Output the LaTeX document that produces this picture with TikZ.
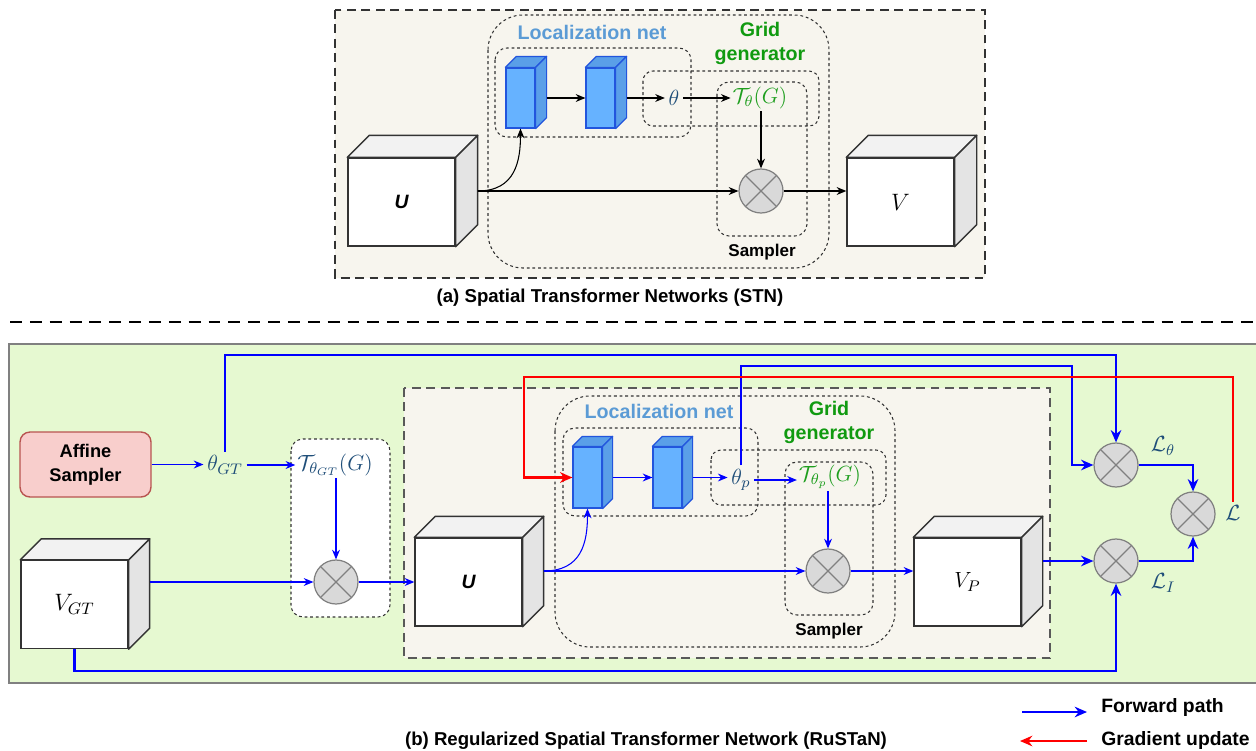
\RequirePackage{fix-cm}
\documentclass[tikz,border=0pt]{standalone}
\usepackage[no-math]{fontspec}
\newfontfamily\lab{Liberation Sans}
\usetikzlibrary{arrows.meta}
\definecolor{beige}{HTML}{F7F5EE}
\definecolor{greenbg}{HTML}{E6F9D1}
\definecolor{otfill}{HTML}{D9D9D9}
\definecolor{otgray}{HTML}{808080}
\definecolor{cubetop}{HTML}{F2F2F2}
\definecolor{cubeside}{HTML}{E4E4E4}
\definecolor{cubeedge}{HTML}{333333}
\definecolor{blkfront}{HTML}{66B2FF}
\definecolor{blkside}{HTML}{5A9FE8}
\definecolor{blkedge}{HTML}{2255DD}
\definecolor{locblue}{HTML}{5B9BD5}
\definecolor{gridgreen}{HTML}{109A10}
\definecolor{tgreen}{HTML}{1E9E1E}
\definecolor{mathblue}{HTML}{1F4E79}
\definecolor{afffill}{HTML}{F8CECC}
\definecolor{affedge}{HTML}{B85450}
\definecolor{fwd}{HTML}{0000FF}
\definecolor{grad}{HTML}{FF0000}
\definecolor{dotgray}{HTML}{333333}
\newcommand{\mkcube}[6]{%
  \node[cubefront, minimum width=#3, minimum height=#4] (#1) at #2 {#6};
  \filldraw[cubetopface] (#1.north west) -- ++(#5,-#5) -- ([shift={(#5,-#5)}]#1.north east) -- (#1.north east) -- cycle;
  \filldraw[cubesideface] (#1.north east) -- ++(#5,-#5) -- ([shift={(#5,-#5)}]#1.south east) -- (#1.south east) -- cycle;}
\newcommand{\mkblock}[4]{%
  \node[blkfront, minimum height=#4] (#1) at #2 {};
  \filldraw[blksideface] (#1.north west) -- ++(#3,-#3) -- ([shift={(#3,-#3)}]#1.north east) -- (#1.north east) -- cycle;
  \filldraw[blksideface] (#1.north east) -- ++(#3,-#3) -- ([shift={(#3,-#3)}]#1.south east) -- (#1.south east) -- cycle;}
\begin{document}
\begin{tikzpicture}[x=0.02cm,y=-0.02cm,
  lbl/.style={font=\lab\bfseries\fontsize{11.2}{13.7}\selectfont, inner sep=0pt, align=center},
  smp/.style={font=\lab\bfseries\fontsize{9.7}{12}\selectfont, inner sep=0pt},
  captxt/.style={font=\lab\bfseries\fontsize{10.6}{13}\selectfont, inner sep=0pt},
  mth/.style={font=\fontsize{12.5}{15}\selectfont, text=mathblue, inner sep=2pt},
  cubefront/.style={draw=cubeedge, fill=white, line width=0.8pt, inner sep=0pt},
  cubetopface/.style={draw=cubeedge, fill=cubetop, line width=0.8pt, line join=round},
  cubesideface/.style={draw=cubeedge, fill=cubeside, line width=0.8pt, line join=round},
  blkfront/.style={draw=blkedge, fill=blkfront, line width=0.7pt, minimum width=0.58cm, inner sep=0pt},
  blksideface/.style={draw=blkedge, fill=blkside, line width=0.7pt, line join=round},
  otimes/.style={circle, draw=otgray, fill=otfill, line width=0.7pt, minimum size=0.88cm, inner sep=0pt,
    path picture={\draw[otgray, line width=0.7pt] (path picture bounding box.north west) -- (path picture bounding box.south east)
      (path picture bounding box.north east) -- (path picture bounding box.south west);}},
  dotbox/.style={draw=dotgray, dash pattern=on 1.6pt off 1.6pt, line width=0.6pt},
  longdash/.style={draw=cubeedge, dash pattern=on 5pt off 3.2pt, line width=0.7pt},
  arr/.style={-{Stealth[length=5.5pt,width=4.5pt]}, line width=0.6pt},
  barr/.style={arr, draw=fwd},
  tharr/.style={-{Stealth[length=7pt,width=6pt]}, line width=1.3pt, draw=fwd},
  rarr/.style={-{Stealth[length=7pt,width=6pt]}, line width=1.3pt, draw=grad}]
\useasboundingbox (0,0) rectangle (1256,750);

% ================= (a) STN =================
\draw[longdash, fill=beige] (335,10) rectangle (985,278);
\draw[dotbox, rounded corners=0.7cm] (488,15) rectangle (829,268);
\draw[dotbox, rounded corners=0.24cm] (495,48) rectangle (691,137);
\draw[dotbox, rounded corners=0.2cm] (643,71) rectangle (819,126);
\draw[dotbox, rounded corners=0.24cm] (717,82) rectangle (807,236);

\node[lbl, text=locblue] (locA) at (592,32) {Localization net};
\node[lbl, text=gridgreen] (gridA) at (760,43) {Grid\\generator};
\node[smp] (sampA) at (762,252) {Sampler};

\mkblock{b1A}{(520.5,98)}{11}{1.2cm}
\mkblock{b2A}{(600.5,98)}{11}{1.2cm}
\node[mth] (thA) at (674,98) {$\theta$};
\node[mth, text=tgreen, inner sep=1pt] (TA) at (760,98) {$\mathcal{T}_\theta(G)$};
\node[otimes] (oA) at (761,191) {};

\mkcube{UA}{(401.5,202)}{2.14cm}{1.76cm}{22}{\lab\bfseries\itshape\fontsize{11}{13}\selectfont U}
\mkcube{VA}{(900.5,202)}{2.14cm}{1.76cm}{22}{\fontsize{13.5}{16}\selectfont$V$}

\draw[arr] ([shift={(11,0)}]b1A.east) -- (b2A.west);
\draw[arr] ([shift={(11,0)}]b2A.east) -- (thA.west);
\draw[arr] (thA.east) -- (thA.east -| TA.west);
\draw[arr] (oA.north |- TA.south) -- (oA.north);
\draw[arr] ([shift={(22,-11)}]UA.east) -- (oA.west);
\draw[arr] ([shift={(22,-11)}]UA.east) .. controls +(38,0) and +(0,32) .. (b1A.south);
\draw[arr] (oA.east) -- (oA.east -| VA.west);

\node[captxt] (capA) at (610,298) {(a) Spatial Transformer Networks (STN)};

% divider
\draw[line width=1.1pt, dash pattern=on 6.8pt off 4.5pt] (10,322) -- (1256,322);

% ================= (b) RuSTaN =================
\draw[draw=otgray, fill=greenbg, line width=0.8pt] (9,344) rectangle (1266,683);
\draw[longdash, draw=black!65, fill=beige] (404,388) rectangle (1050,658);

\node[draw=affedge, fill=afffill, rounded corners=0.2cm, minimum width=2.62cm, minimum height=1.3cm,
  line width=0.8pt, inner sep=0pt, align=center, font=\lab\bfseries\fontsize{10.4}{13.7}\selectfont] (aff) at (85.5,464.5) {Affine\\Sampler};
\node[mth] (thGT) at (225,465) {$\theta_{GT}$};
\draw[dotbox, fill=white, rounded corners=0.24cm] (291,439) rectangle (390,617);
\node[mth, inner sep=1pt] (TGT) at (335,465) {$\mathcal{T}_{\theta_{GT}}(G)$};
\node[otimes] (oGT) at (336,582) {};
\mkcube{VGT}{(74.5,604.5)}{2.14cm}{1.76cm}{21}{\fontsize{13.5}{16}\selectfont$V_{GT}$}

\draw[dotbox, rounded corners=0.7cm] (555,396) rectangle (895,647);
\draw[dotbox, rounded corners=0.24cm] (563,428) rectangle (758,516);
\draw[dotbox, rounded corners=0.2cm] (711,450) rectangle (886,505);
\draw[dotbox, rounded corners=0.24cm] (785,462) rectangle (873,615);

\node[lbl, text=locblue] (locB) at (659,411) {Localization net};
\node[lbl, text=gridgreen] (gridB) at (829,422) {Grid\\generator};
\node[smp] (sampB) at (829,631) {Sampler};

\mkcube{UB}{(468.5,582)}{2.14cm}{1.76cm}{21}{\lab\bfseries\itshape\fontsize{11}{13}\selectfont U}
\mkblock{b1B}{(587.5,477.5)}{10}{1.22cm}
\mkblock{b2B}{(667.5,477.5)}{10}{1.22cm}
\node[mth] (thp) at (741,480) {$\theta_p$};
\node[mth, text=tgreen, inner sep=1pt] (Tp) at (830,477) {$\mathcal{T}_{\theta_p}(G)$};
\node[otimes] (oB) at (828,571) {};
\mkcube{VP}{(967.5,582)}{2.14cm}{1.76cm}{21}{\fontsize{12.5}{15}\selectfont$V_P$}

\node[otimes] (Lth) at (1116,465) {};
\node[otimes] (LI) at (1116,561) {};
\node[otimes] (Lc) at (1193,514) {};
\node[mth] (Lthlab) at (1163,446) {$\mathcal{L}_\theta$};
\node[mth] (LIlab) at (1163,583) {$\mathcal{L}_I$};
\node[mth] (Llab) at (1233,513) {$\mathcal{L}$};

\coordinate (topy) at (0,355);
\coordinate (boty) at (0,671);
\coordinate (thpc) at (1072,366);
\coordinate (redc) at (524,377);

% thin forward arrows
\draw[barr] (aff.east) -- (aff.east -| thGT.west);
\draw[barr] (thGT.east) -- (thGT.east -| TGT.west);
\draw[barr] (oGT.north |- TGT.south) -- (oGT.north);
\draw[barr] ([shift={(21,0)}]VGT.east |- oGT.west) -- (oGT.west);
\draw[barr] (oGT.east) -- (UB.west);
\draw[barr] ([shift={(21,0)}]UB.east |- oB.west) -- (oB.west);
\draw[barr] ([shift={(21,0)}]UB.east |- oB.west) .. controls +(38,0) and +(0,34) .. (b1B.south);
\draw[barr] ([shift={(10,0)}]b1B.east) -- (b2B.west);
\draw[barr] ([shift={(10,0)}]b2B.east) -- (b2B.east -| thp.west);
\draw[barr] (thp.east) -- (thp.east -| Tp.west);
\draw[barr] (oB.north |- Tp.south) -- (oB.north);
\draw[barr] (oB.east) -- (oB.east -| VP.west);

% thick forward paths
\draw[tharr] ([shift={(21,0)}]VP.east |- LI.west) -- (LI.west);
\draw[tharr] (Lth.east) -| (Lc.north);
\draw[tharr] (LI.east) -| (Lc.south);
\draw[tharr] (thGT.north) |- (topy -| Lth.north) -- (Lth.north);
\draw[tharr] (VGT.south) |- (boty -| LI.south) -- (LI.south);
\draw[tharr] (thp.north) |- (thpc) |- (Lth.west);
% gradient path
\draw[rarr] (Llab.north) |- (redc) |- (b1B.west);

% legend and caption
\coordinate (lgAs) at (1022,712);
\coordinate (lgAe) at (1087,712);
\coordinate (lgBs) at (1087,741);
\coordinate (lgBe) at (1020,741);
\draw[tharr] (lgAs) -- (lgAe);
\draw[rarr] (lgBs) -- (lgBe);
\node[captxt, anchor=west, font=\lab\bfseries\fontsize{11}{13}\selectfont] (lgA) at (1101,707) {Forward path};
\node[captxt, anchor=west, font=\lab\bfseries\fontsize{11}{13}\selectfont] (lgB) at (1101,740) {Gradient update};
\node[captxt] (capB) at (646,741) {(b) Regularized Spatial Transformer Network (RuSTaN)};
\end{tikzpicture}
\end{document}
